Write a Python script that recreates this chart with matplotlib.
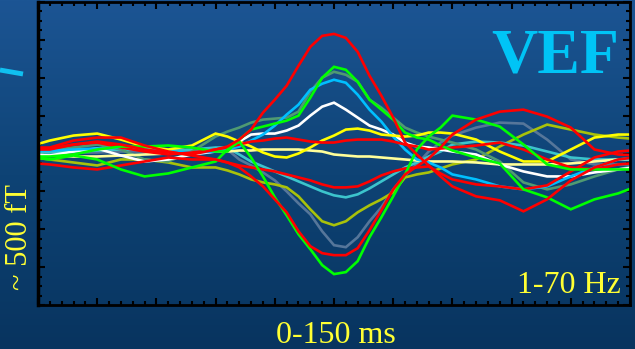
"""VEF — evoked field traces (1-70 Hz), recreated with matplotlib."""

import matplotlib

matplotlib.use("Agg")
import matplotlib.pyplot as plt
import numpy as np
from matplotlib.colors import LinearSegmentedColormap
from matplotlib.lines import Line2D
from matplotlib.ticker import MultipleLocator

# time samples (ms): 20 ms steps outside the response, 10 ms around it
TIME_MS = ([-110, -90, -70, -50, -30, -10, 10, 30, 50]
           + [60, 70, 80, 90, 100, 110, 120, 130, 140, 150,
              160, 170, 180, 190, 200, 210, 220, 230, 240]
           + [250, 270, 290, 310, 330, 350, 370, 390, 410])

# amplitudes (arbitrary units, baseline 0), one list per channel
RED_1 = ([4, 5, 9, 12, 9, 4, 1, -1, 4]
         + [7, 14, 24, 41, 54, 68, 88, 107, 118, 120, 116, 102, 78, 58, 36, 11, -1, -12, -23]
         + [-33, -43, -47, -58, -46, -27, -14, -6, -3])
RED_2 = ([6, 6, 13, 16, 16, 8, 2, -2, -6]
         + [-9, -14, -23, -33, -46, -59, -78, -93, -100, -102, -102, -95, -77, -57, -36, -21, -13, -5, 6]
         + [19, 34, 42, 44, 37, 26, 4, -1, -2])
RED_3 = ([4, 4, 9, 11, 6, 2, -1, 1, 4]
         + [6, 9, 12, 13, 15, 16, 14, 12, 11, 11, 13, 14, 14, 14, 12, 9, 7, 4, 5]
         + [6, 8, 11, 4, -6, -14, -16, -11, -9])
RED_4 = ([-9, -11, -14, -16, -12, -8, -4, -6, -6]
         + [-9, -12, -14, -16, -18, -21, -24, -27, -31, -34, -34, -33, -28, -22, -18, -15, -14, -13, -20]
         + [-26, -31, -33, -36, -32, -18, -4, 2, 4])
GREEN_1 = ([-3, -3, -1, 4, 7, 7, 8, 6, 2]
           + [2, 14, 24, 27, 30, 33, 38, 56, 76, 87, 84, 72, 54, 44, 34, 21, 16, 14, 8]
           + [3, -4, -10, -36, -44, -56, -46, -40, -31])
GREEN_2 = ([-3, -6, -2, -6, -16, -23, -20, -14, -8]
           + [4, 12, -4, -23, -44, -62, -81, -96, -112, -121, -119, -108, -84, -64, -43, -21, 4, 17, 26]
           + [38, 34, 27, 9, -11, -16, -16, -16, -16])
YELLOW = ([6, 13, 18, 20, 14, 7, 4, 8, 20]
          + [17, 12, 7, 1, -3, -4, 0, 6, 13, 18, 24, 25, 23, 19, 18, 17, 18, 21, 21]
          + [20, 14, 2, -8, -8, 4, 16, 19, 19])
CREAM = ([-1, -2, -3, -3, -2, -1, 0, 1, 2]
         + [2, 3, 3, 4, 4, 4, 4, 3, 2, -1, -2, -3, -3, -4, -5, -6, -7, -8, -8]
         + [-8, -9, -11, -11, -11, -10, -8, -6, -5])
SKY = ([2, 3, 4, 5, 6, 4, 2, 1, 2]
       + [4, 7, 13, 19, 28, 39, 49, 64, 70, 74, 71, 59, 44, 32, 17, 4, -6, -9, -14]
       + [-21, -26, -33, -36, -33, -23, -14, -6, -4])
SEA = ([4, 4, 6, 9, 4, -6, -8, 2, 17]
       + [22, 26, 31, 34, 35, 36, 42, 62, 76, 82, 79, 72, 54, 46, 36, 26, 21, 17, 14]
       + [11, 4, -8, -29, -36, -31, -23, -16, -11])
WHITE = ([-1, -2, 2, 5, -2, -8, -6, -1, 2]
         + [4, 12, 19, 20, 20, 23, 28, 38, 47, 51, 44, 36, 28, 24, 19, 11, 7, 6, 4]
         + [2, -1, -11, -18, -23, -23, -19, -16, -13])
TURQ = ([1, 1, 2, 3, 4, 4, 3, 4, 6]
        + [6, -1, -8, -13, -18, -23, -28, -33, -38, -42, -44, -41, -35, -28, -21, -14, -9, -3, 2]
        + [9, 12, 11, 8, 2, -4, -6, -6, -6])
OLIVE = ([-3, -6, -9, -12, -6, -6, -9, -14, -14]
         + [-17, -21, -26, -29, -31, -34, -43, -56, -68, -72, -68, -59, -52, -46, -39, -24, -21, -19, -15]
         + [-11, -6, 7, 19, 29, 24, 19, 16, 14])
SLATE = ([2, 2, 1, 1, 2, 2, 1, 2, 4]
         + [4, -6, -12, -19, -27, -38, -50, -61, -78, -92, -94, -84, -68, -54, -36, -22, -11, 2, 11]
         + [18, 26, 31, 30, 14, -6, -11, -11, -11])

# drawing order: back to front
TRACES = [
    (SLATE, "#56769a"),
    (OLIVE, "#a9c20a"),
    (TURQ, "#3cc4cc"),
    (SEA, "#4f9a72"),
    (CREAM, "#ffff9a"),
    (WHITE, "#ffffff"),
    (SKY, "#00bfff"),
    (YELLOW, "#ffff00"),
    (RED_3, "#ff0000"),
    (RED_4, "#ff0000"),
    (GREEN_2, "#00ff00"),
    (GREEN_1, "#00ff00"),
    (RED_2, "#ff0000"),
    (RED_1, "#ff0000"),
]

TXT_YELLOW = "#ffff33"
VEF_CYAN = "#00c4f6"


def main() -> None:
    fig = plt.figure(figsize=(6.35, 3.49), dpi=100)

    # background gradient over the whole figure
    bg = fig.add_axes([0, 0, 1, 1], zorder=0)
    cmap = LinearSegmentedColormap.from_list("bg", ["#08345f", "#0e4375", "#1c5594"])
    bg.imshow(np.linspace(0, 1, 256).reshape(-1, 1), cmap=cmap, aspect="auto",
              origin="lower", extent=(0, 1, 0, 1))
    bg.set_axis_off()

    ax = fig.add_axes([38 / 635, 1 - 305 / 349, 592 / 635, 303 / 349], zorder=1)
    ax.patch.set_alpha(0)

    for vals, col in TRACES:
        ax.plot(TIME_MS, vals, color=col, lw=1.9, solid_joinstyle="miter")

    ax.set_xlim(-100, 400)
    ax.set_ylim(-152, 152)
    ax.xaxis.set_major_locator(MultipleLocator(50))
    ax.xaxis.set_minor_locator(MultipleLocator(10))
    ax.yaxis.set_major_locator(MultipleLocator(38))
    ax.yaxis.set_minor_locator(MultipleLocator(9.5))
    ax.tick_params(which="both", direction="in", top=True, right=True,
                   labelbottom=False, labelleft=False, color="black", width=1.5)
    ax.tick_params(which="major", length=5)
    ax.tick_params(which="minor", length=3)
    for side, sp in ax.spines.items():
        sp.set_color("black")
        sp.set_linewidth(2.5 if side == "left" else 2)

    ax.text(0.873, 0.766, "VEF", transform=ax.transAxes, ha="center", va="baseline",
            fontsize=46, fontweight="bold", family="Liberation Serif", color=VEF_CYAN)
    ax.text(0.985, 0.04, "1-70 Hz", transform=ax.transAxes, ha="right",
            va="baseline", fontsize=23, family="Liberation Serif", color=TXT_YELLOW)

    fig.text(336 / 635, 1 - 343 / 349, "0-150 ms", ha="center", va="baseline",
             fontsize=23, family="Liberation Serif", color=TXT_YELLOW)
    fig.text(20 / 635, 1 - 237 / 349, "~ 500 fT", ha="center", va="center",
             rotation=90, fontsize=22, family="Liberation Serif", color=TXT_YELLOW)

    # short cyan stroke at the left edge
    fig.add_artist(Line2D([0, 23 / 635], [1 - 70 / 349, 1 - 74 / 349],
                          color="#10c0f0", lw=3.5, solid_capstyle="butt"))

    fig.savefig("out.png", dpi=100)


if __name__ == "__main__":
    main()
